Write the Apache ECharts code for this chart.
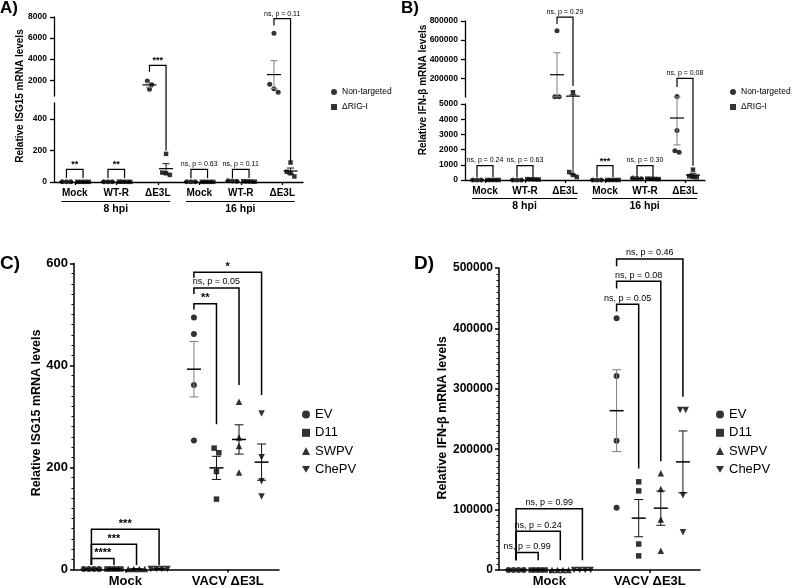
<!DOCTYPE html>
<html><head><meta charset="utf-8">
<script src="https://cdn.jsdelivr.net/npm/echarts@6.0.0/dist/echarts.min.js"></script>
<style>html,body{margin:0;padding:0;background:#fff;}#chart{width:796px;height:588px;}</style>
</head><body><div id="chart"></div>
<script>
// ===== categories / groups =====
const catsAB = ['Mock', 'WT-R', 'ΔE3L', 'Mock', 'WT-R', 'ΔE3L'];
const timeGroups = ['8 hpi', '16 hpi'];
const groupsAB = ['Non-targeted', 'ΔRIG-I'];
const catsCD = ['Mock', 'VACV ΔE3L'];
const groupsCD = ['EV', 'D11', 'SWPV', 'ChePV'];

// ===== A: relative ISG15 (replicates per category) =====
const isgA_nonTargeted = [[1,1,1],[1.5,2,1.8],[1930,1150,1580],[1,1,1],[6,8,5],[6450,1620,1200,860]];
const isgA_dRIGI       = [[1,1,1,1],[1,1.5,2,1.2],[178,55,45,60],[1,1,1,1],[3,4,2,5],[123,65,35,55]];
// ===== B: relative IFN-β =====
const ifnB_nonTargeted = [[1,1,1],[2,3,2],[697000,8500,8000],[1,1,1],[100,130,90],[9300,3260,1820,1930]];
const ifnB_dRIGI       = [[1,1,1,1],[40,60,50,30],[55000,520,330,200],[1,1,1,1],[80,60,90,70],[680,250,200,180]];
// ===== C: relative ISG15 =====
const isgC_EV    = [[1,1,1,1],[494,462,362,253]];
const isgC_D11   = [[1,1,1,1],[229,238,192,138]];
const isgC_SWPV  = [[1,1,1,1],[329,259,242,190]];
const isgC_ChePV = [[1,1,1,1],[306,220,173,143]];
// ===== D: relative IFN-β =====
const ifnD_EV    = [[1,1,1,1],[417000,321000,214000,103000]];
const ifnD_D11   = [[1,1,1,1],[146000,131000,43000,23400]];
const ifnD_SWPV  = [[1,1,1,1],[160000,134000,83700,31800]];
const ifnD_ChePV = [[1,1,1,1],[265000,264800,123800,62500]];

// ===== tick labels =====
const ticksA_upper = [2000, 4000, 6000, 8000];
const ticksA_lower = [0, 200, 400];
const ticksB_upper = [200000, 400000, 600000, 800000];
const ticksB_lower = [0, 1000, 2000, 3000, 4000, 5000];

// ===== significance: [category, leftGroup, rightGroup, topValue, leftEndValue, rightEndValue, label] =====
const sigA = [
  [0,0,1,80,25,25,'**'], [1,0,1,80,25,25,'**'], [2,0,1,3400,2800,200,'***'],
  [3,0,1,80,25,25,'ns, p = 0.63'], [4,0,1,80,25,25,'ns, p = 0.11'], [5,0,1,7850,7200,130,'ns, p = 0.11']
];
const sigB = [
  [0,0,1,950,200,200,'ns, p = 0.24'], [1,0,1,950,200,200,'ns, p = 0.63'], [2,0,1,841000,768000,120000,'ns, p = 0.29'],
  [3,0,1,950,200,200,'***'], [4,0,1,950,200,200,'ns, p = 0.30'], [5,0,1,200000,109000,940,'ns, p = 0.08']
];
const sigC = [
  [0,0,1,21.5,9,9,'****'], [0,0,2,49.5,9,9,'***'], [0,0,3,79,9,9,'***'],
  [1,0,1,521,510,285,'**'], [1,0,2,552,540,362,'ns, p = 0.05'], [1,0,3,583,572,342,'*']
];
const sigD = [
  [0,0,1,29000,16000,16000,'ns, p = 0.99'], [0,0,2,64000,16000,16000,'ns, p = 0.24'], [0,0,3,101500,16000,16000,'ns, p = 0.99'],
  [1,0,1,440000,428000,168000,'ns, p = 0.05'], [1,0,2,478000,466000,180000,'ns, p = 0.08'], [1,0,3,515000,503000,287000,'ns, p = 0.46']
];

// ===== layout / style =====
const FONT = 'Arial, "Liberation Sans", sans-serif';
const DOWN_TRIANGLE = 'path://M0,0L10,0L5,8.66Z';
const panels = [
  { id:'A', cats:catsAB, groups:groupsAB, values:[isgA_nonTargeted, isgA_dRIGI], sig:sigA, time:true,
    grids:[{left:54,top:17,width:249,height:79,min:500,max:8000,ticks:ticksA_upper},
           {left:54,top:103,width:249,height:79,min:0,max:500,ticks:ticksA_lower}],
    offsets:[-0.2,0.2], symbols:['circle','rect'], sizes:[5,4.5],
    axisW:1.3, tickLen:4, tickFont:8.5, labelMargin:7, catFont:10, catMargin:6,
    meanW:7, capW:3.5, barW:1.2, sigFontNs:7, sigFontStar:9, lineDy:19.5,
    title:{text:'Relative ISG15 mRNA levels', x:20, y:96, size:10},
    letter:{text:'A)', x:0, y:0, size:17},
    legend:{left:331, top:87, icon:6, font:8.5, lh:10, gap:5} },
  { id:'B', cats:catsAB, groups:groupsAB, values:[ifnB_nonTargeted, ifnB_dRIGI], sig:sigB, time:true,
    grids:[{left:465,top:21,width:240,height:76,min:5000,max:800000,ticks:ticksB_upper},
           {left:465,top:104,width:240,height:76,min:0,max:5000,ticks:ticksB_lower}],
    offsets:[-0.2,0.2], symbols:['circle','rect'], sizes:[5,4.5],
    axisW:1.3, tickLen:4, tickFont:8.5, labelMargin:7, catFont:10, catMargin:6,
    meanW:7, capW:3.5, barW:1.2, sigFontNs:7, sigFontStar:9, lineDy:18.5,
    title:{text:'Relative IFN-β mRNA levels', x:423, y:90, size:10},
    letter:{text:'B)', x:401, y:0, size:17},
    legend:{left:730, top:87, icon:6, font:8.5, lh:10, gap:5} },
  { id:'C', cats:catsCD, groups:groupsCD, values:[isgC_EV, isgC_D11, isgC_SWPV, isgC_ChePV], sig:sigC, time:false,
    grids:[{left:74,top:263.5,width:205,height:306,min:0,max:600,interval:200,minor:10}],
    offsets:[-0.33,-0.11,0.11,0.33], symbols:['circle','rect','triangle',DOWN_TRIANGLE], sizes:[6,5.5,6.5,6.5],
    axisW:1.5, tickLen:4, tickFont:13, labelMargin:6, catFont:13, catMargin:5,
    meanW:7, capW:4.5, barW:1.5, sigFontNs:9, sigFontStar:11,
    title:{text:'Relative ISG15 mRNA levels', x:37, y:413, size:12.5},
    letter:{text:'C)', x:0, y:254, size:19},
    legend:{left:302, top:407, icon:8, font:13, lh:15, gap:3.3} },
  { id:'D', cats:catsCD, groups:groupsCD, values:[ifnD_EV, ifnD_D11, ifnD_SWPV, ifnD_ChePV], sig:sigD, time:false,
    grids:[{left:499,top:268,width:201,height:302,min:0,max:500000,interval:100000,minor:10}],
    offsets:[-0.33,-0.11,0.11,0.33], symbols:['circle','rect','triangle',DOWN_TRIANGLE], sizes:[6,5.5,6.5,6.5],
    axisW:1.5, tickLen:4, tickFont:12, labelMargin:6, catFont:13, catMargin:5,
    meanW:7, capW:4.5, barW:1.5, sigFontNs:9, sigFontStar:11,
    title:{text:'Relative IFN-β mRNA levels', x:443, y:418, size:12.5},
    letter:{text:'D)', x:414, y:254, size:19},
    legend:{left:716, top:407, icon:8, font:13, lh:15, gap:3.3} }
];

const chart = echarts.init(document.getElementById('chart'), null, {renderer:'canvas', width:796, height:588});

function segOf(p, v) { return (p.grids.length > 1 && v >= p.grids[0].min) ? 0 : p.grids.length - 1; }
function key(p,g,c,i) { return p.id+'-'+g+'-'+c+'-'+i; }

function buildOption(jit) {
  const grid = [], xAxis = [], yAxis = [], series = [], legend = [];
  panels.forEach(p => {
    p.gi = [];
    p.grids.forEach(g => { p.gi.push(grid.length); grid.push({left:g.left, top:g.top, width:g.width, height:g.height}); });
  });
  panels.forEach(p => {
    p.grids.forEach((g, k) => {
      const gi = p.gi[k];
      xAxis[gi] = {gridIndex:gi, type:'value', show:false, min:-0.5, max:p.cats.length - 0.5};
      const ya = {gridIndex:gi, type:'value', min:g.min, max:g.max,
        axisLine:{show:true, onZero:false, lineStyle:{color:'#000', width:p.axisW}},
        axisTick:{show:true, length:p.tickLen, lineStyle:{color:'#000', width:p.axisW}},
        axisLabel:{color:'#000', fontSize:p.tickFont, fontWeight:'bold', fontFamily:FONT, margin:p.labelMargin, formatter:v => String(v)},
        splitLine:{show:false}};
      if (g.ticks) { ya.axisTick.customValues = g.ticks; ya.axisLabel.customValues = g.ticks; }
      if (g.interval) {
        ya.interval = g.interval;
        ya.minorTick = {show:true, splitNumber:g.minor, length:2.5, lineStyle:{color:'#000', width:1}};
      }
      yAxis[gi] = ya;
    });
  });
  panels.forEach(p => {
    const gi = p.gi[p.gi.length - 1];
    xAxis.push({gridIndex:gi, type:'category', data:p.cats, boundaryGap:true, position:'bottom',
      axisLine:{show:true, onZero:false, lineStyle:{color:'#000', width:p.axisW}},
      axisTick:{show:true, alignWithLabel:true, length:3, lineStyle:{color:'#000', width:p.axisW}},
      axisLabel:{interval:0, color:'#000', fontSize:p.catFont, fontWeight:'bold', fontFamily:FONT, margin:p.catMargin},
      splitLine:{show:false}});
  });
  panels.forEach(p => {
    p.values.forEach((byCat, g) => {
      const segData = p.grids.map(() => []);
      byCat.forEach((vals, c) => vals.forEach((v, i) => {
        segData[segOf(p, v)].push([c + p.offsets[g] + (jit[key(p,g,c,i)] || 0), v]);
      }));
      segData.forEach((d, k) => series.push({
        type:'scatter', name:p.groups[g], xAxisIndex:p.gi[k], yAxisIndex:p.gi[k], data:d,
        symbol:p.symbols[g], symbolSize:p.sizes[g],
        itemStyle:{color:'#000'}, clip:false, silent:true, z:3, animation:false
      }));
    });
    const L = p.legend;
    legend.push({show:true, data:p.groups.map((n, g) => ({name:n, icon:p.symbols[g]})),
      left:L.left, top:L.top, orient:'vertical', padding:0,
      itemWidth:L.icon, itemHeight:L.icon, itemGap:L.gap, selectedMode:false,
      textStyle:{fontSize:L.font, color:'#000', fontFamily:FONT, lineHeight:L.lh}});
  });
  return {backgroundColor:'#fff', animation:false, grid, xAxis, yAxis, series, legend};
}

function toPx(p, x, v) {
  const gi = p.gi[segOf(p, v)];
  return chart.convertToPixel({xAxisIndex:gi, yAxisIndex:gi}, [x, v]);
}

function computeJitter() {
  const J = {};
  panels.forEach(p => {
    p.values.forEach((byCat, g) => {
      const size = p.sizes[g];
      byCat.forEach((vals, c) => {
        const x0 = c + p.offsets[g];
        const unit = toPx(p, x0 + 1, vals[0])[0] - toPx(p, x0, vals[0])[0];
        const pts = vals.map((v, i) => ({i, y: toPx(p, x0, v)[1]})).sort((a, b) => a.y - b.y);
        let cl = [pts[0]];
        const flush = () => { const m = cl.length; cl.forEach((q, k) => { J[key(p,g,c,q.i)] = ((k - (m - 1) / 2) * size * 0.85) / unit; }); };
        for (let k = 1; k < pts.length; k++) {
          if (pts[k].y - cl[cl.length - 1].y < size * 0.9) cl.push(pts[k]); else { flush(); cl = [pts[k]]; }
        }
        flush();
      });
    });
  });
  return J;
}

function txt(text, x, y, o) {
  return {type:'text', x, y, rotation:o.rot || 0, silent:true, z:10,
    style:{text, fill:'#000', fontSize:o.size, fontWeight:o.bold ? 'bold' : 'normal', fontFamily:FONT,
      align:o.align || 'center', verticalAlign:o.va || 'middle', textAlign:o.align || 'center', textVerticalAlign:o.va || 'middle'}};
}
function ln(x1, y1, x2, y2, color, w) {
  return {type:'line', silent:true, z:5, shape:{x1, y1, x2, y2}, style:{stroke:color, lineWidth:w}};
}
function meanSem(a) {
  const n = a.length, m = a.reduce((s, x) => s + x, 0) / n;
  const sd = Math.sqrt(a.reduce((s, x) => s + (x - m) * (x - m), 0) / (n - 1));
  return [m, sd / Math.sqrt(n)];
}

function buildGraphics() {
  const G = [];
  panels.forEach(p => {
    G.push(txt(p.letter.text, p.letter.x, p.letter.y, {size:p.letter.size, bold:true, align:'left', va:'top'}));
    G.push(txt(p.title.text, p.title.x, p.title.y, {size:p.title.size, bold:true, rot:Math.PI / 2}));
    if (p.time) {
      const yAxisPx = toPx(p, 0, 0)[1];
      timeGroups.forEach((t, k) => {
        const xl = toPx(p, 3 * k - 0.32, 0)[0], xr = toPx(p, 3 * k + 2 + 0.3, 0)[0];
        const yl = yAxisPx + p.lineDy;
        G.push(ln(xl, yl, xr, yl, '#000', 1.2));
        G.push(txt(t, (xl + xr) / 2, yl + 2.5, {size:10.5, bold:true, va:'top'}));
      });
    }
    // mean ± SEM
    p.values.forEach((byCat, g) => byCat.forEach((vals, c) => {
      const [m, se] = meanSem(vals);
      const x = c + p.offsets[g];
      const pm = toPx(p, x, m), lo = toPx(p, x, m - se), hi = toPx(p, x, m + se);
      const wc = g === 0 ? '#7d7d7d' : '#111';
      G.push(ln(pm[0], lo[1], pm[0], hi[1], wc, 1));
      G.push(ln(pm[0] - p.capW, lo[1], pm[0] + p.capW, lo[1], wc, 1));
      G.push(ln(pm[0] - p.capW, hi[1], pm[0] + p.capW, hi[1], wc, 1));
      G.push(ln(pm[0] - p.meanW, pm[1], pm[0] + p.meanW, pm[1], '#000', p.barW));
    }));
    // significance brackets
    p.sig.forEach(([c, gl, gr, top, le, re, label]) => {
      const xl = c + p.offsets[gl], xr = c + p.offsets[gr];
      const tl = toPx(p, xl, top), tr = toPx(p, xr, top), bl = toPx(p, xl, le), br = toPx(p, xr, re);
      G.push({type:'polyline', silent:true, z:6, shape:{points:[[bl[0], bl[1]], [tl[0], tl[1]], [tr[0], tl[1]], [br[0], br[1]]]},
        style:{stroke:'#000', lineWidth:p.barW, fill:null}});
      const star = label.indexOf('*') === 0;
      G.push(txt(label, (tl[0] + tr[0]) / 2, tl[1] - (star ? 0 : 1.5),
        {size:star ? p.sigFontStar : p.sigFontNs, bold:star, va:'bottom'}));
    });
  });
  return G;
}

chart.setOption(buildOption({}), true);
const jitter = computeJitter();
chart.setOption(buildOption(jitter), true);
chart.setOption({graphic:buildGraphics()});
</script>
</body></html>
